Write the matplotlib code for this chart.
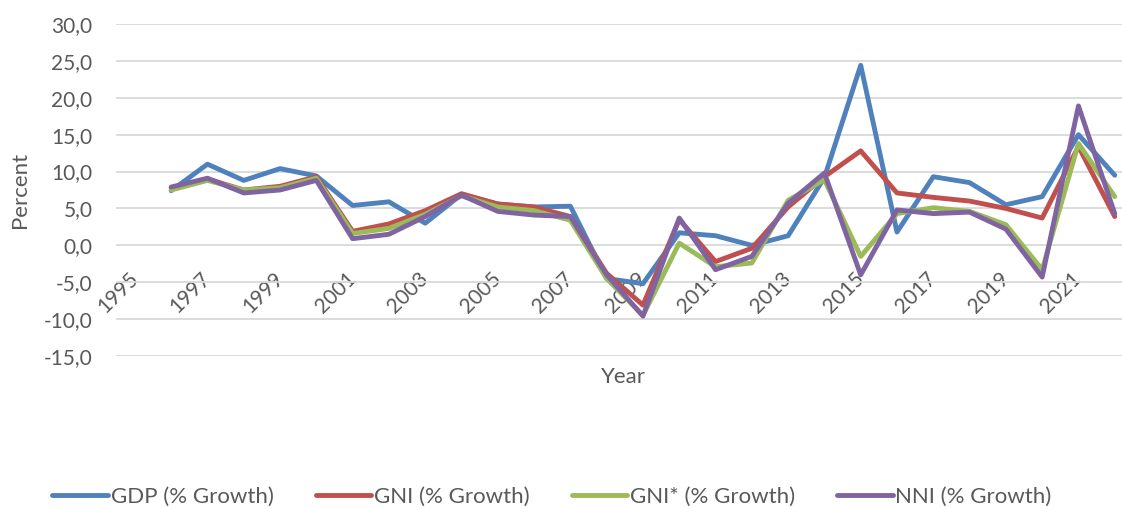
import matplotlib.pyplot as plt
from matplotlib.ticker import FuncFormatter, FixedLocator

years = list(range(1996, 2023))

gdp = [7.4, 11.0, 8.8, 10.4, 9.4, 5.4, 5.9, 3.0, 6.9, 5.6, 5.2, 5.3, -4.5, -5.2,
       1.7, 1.3, 0.0, 1.3, 9.2, 24.4, 1.8, 9.3, 8.5, 5.5, 6.6, 15.0, 9.5]
gni = [7.8, 9.0, 7.5, 8.0, 9.3, 1.9, 2.9, 4.7, 7.0, 5.6, 5.2, 3.9, -3.8, -8.1,
       3.5, -2.2, -0.4, 5.2, 9.3, 12.8, 7.1, 6.5, 6.0, 5.0, 3.7, 13.4, 3.9]
gni_star = [7.5, 8.8, 7.5, 7.8, 9.1, 1.6, 2.3, 4.2, 6.7, 5.2, 4.7, 3.4, -4.5, -9.5,
            0.3, -2.9, -2.4, 6.1, 8.9, -1.5, 4.3, 5.1, 4.6, 2.8, -3.3, 13.8, 6.6]
nni = [7.9, 9.1, 7.1, 7.5, 8.8, 0.9, 1.5, 3.9, 6.8, 4.6, 4.1, 3.9, -4.0, -9.6,
       3.7, -3.3, -1.5, 5.7, 9.8, -4.0, 4.8, 4.3, 4.5, 2.2, -4.3, 18.9, 4.3]

series = [
    ("GDP (% Growth)", gdp, "#4F81BD"),
    ("GNI (% Growth)", gni, "#C0504D"),
    ("GNI* (% Growth)", gni_star, "#9BBB59"),
    ("NNI (% Growth)", nni, "#8064A2"),
]

x_ticks = list(range(1995, 2022, 2))
y_ticks = list(range(-15, 31, 5))

plt.rcParams['font.family'] = ['Lato', 'DejaVu Sans']
text_col = '#595959'
fs = 15

fig = plt.figure(figsize=(11.22, 5.08), dpi=100)
ax = fig.add_axes([116 / 1122, 1 - 356 / 508, 1 - 116 / 1122, (356 - 24) / 508])

for name, vals, col in series:
    ax.plot(years, vals, color=col, lw=3.5, label=name, solid_joinstyle='round',
            solid_capstyle='round')

ax.set_ylim(-15, 30)
ax.set_xlim(1994.48, 2022.2)
ax.yaxis.set_major_locator(FixedLocator(y_ticks))
ax.yaxis.set_major_formatter(FuncFormatter(lambda v, p: f"{v:.1f}".replace('.', ',')))
ax.grid(axis='y', color='#d9d9d9', lw=1.3)
ax.set_axisbelow(True)
for s in ax.spines.values():
    s.set_visible(False)

# category labels sit on the zero line
ax.spines['bottom'].set_position(('data', 0))
ax.xaxis.set_major_locator(FixedLocator(x_ticks))
ax.tick_params(axis='both', length=0, labelsize=fs, labelcolor=text_col)
ax.tick_params(axis='x', pad=22)
ax.tick_params(axis='y', pad=17)
for lbl in ax.get_xticklabels():
    lbl.set_rotation(45)
    lbl.set_ha('right')
    lbl.set_va('center')
    lbl.set_rotation_mode('anchor')

fig.text(20 / 1122, 1 - 190 / 508, 'Percent', fontsize=fs + 1, color=text_col,
         ha='center', va='center', rotation=90)
fig.text(623 / 1122, 1 - 377 / 508, 'Year', fontsize=fs + 1, color=text_col,
         ha='center', va='center')

fig.legend(loc='center', bbox_to_anchor=(0.492, 1 - 497 / 508), ncol=4, frameon=False,
           fontsize=fs + 1, handlelength=2.5, handletextpad=0.12, columnspacing=1.9,
           labelcolor=text_col)

fig.savefig('out.png', dpi=100)
